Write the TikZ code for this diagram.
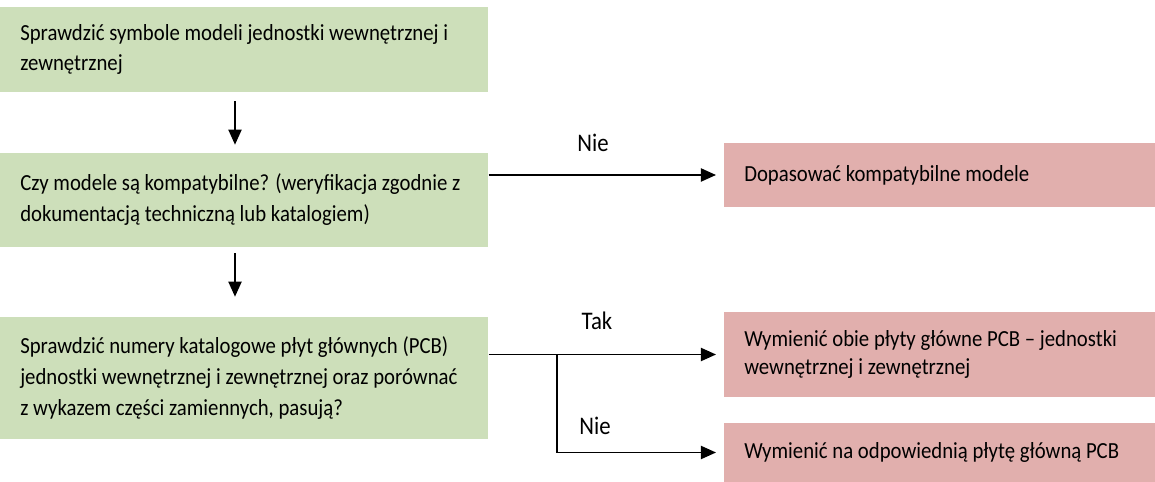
\documentclass[tikz,border=0pt]{standalone}
\usepackage{fontspec}
\setmainfont{Carlito}[FakeStretch=0.9]
\usetikzlibrary{calc,positioning,arrows.meta}
\definecolor{zielony}{RGB}{205,223,186}
\definecolor{rozowy}{RGB}{225,175,173}

\begin{document}
\begin{tikzpicture}[
		greenbox/.style={fill=zielony, anchor=west, text width=11.2cm, inner xsep=0.5cm, inner ysep=0pt, align=flush left, font=\fontsize{16.4}{22}\selectfont},
		redbox/.style={fill=rozowy, anchor=west, text width=9.8cm, inner xsep=0.5cm, inner ysep=0pt, align=flush left, font=\fontsize{16.4}{19.3}\selectfont},
		arr/.style={-{Triangle[length=0.38cm,width=0.33cm]}, line width=1.3pt},
		lbl/.style={font=\fontsize{18}{20}\selectfont}
	]
		\useasboundingbox (0,0) rectangle (28.875,-12.05);
	
		\node[greenbox, minimum height=2.125cm] at (0,-1.2375) (sym) {Sprawdzić symbole modeli jednostki wewnętrznej i\\ zewnętrznej};
		\node[greenbox, minimum height=2.35cm] at (0,-5) (komp) {Czy modele są kompatybilne? (weryfikacja zgodnie z\\ dokumentacją techniczną lub katalogiem)};
		\node[greenbox, minimum height=3.05cm] at (0,-9.45) (pcb) {Sprawdzić numery katalogowe płyt głównych (PCB)\\ jednostki wewnętrznej i zewnętrznej oraz porównać\\ z wykazem części zamiennych, pasują?};
	
		\node[redbox, minimum height=1.6cm] at (18.1,-4.375) (dop) {Dopasować kompatybilne modele};
		\node[redbox, minimum height=2.125cm] at (18.1,-8.8625) (obie) {Wymienić obie płyty główne PCB – jednostki\\ wewnętrznej i zewnętrznej};
		\node[redbox, minimum height=1.475cm] at (18.1,-11.3125) (odp) {Wymienić na odpowiednią płytę główną PCB};
	
		\coordinate (os) at (5.875,0);
		\coordinate (rozg) at (13.925,0);
	
		\draw[arr, shorten <=0.225cm, shorten >=0.2cm] (sym.south -| os) -- (komp.north -| os);
		\draw[arr, shorten <=0.15cm, shorten >=0.5cm] (komp.south -| os) -- (pcb.north -| os);
	
		\draw[arr, shorten >=0.2cm] (komp.east |- dop.west) -- (dop.west);
		\draw[arr, shorten >=0.2cm] (pcb.east |- obie.west) -- (obie.west);
		\draw[arr, shorten >=0.2cm] (rozg |- obie.west) |- (odp.west);
	
		\node[lbl] at (14.825,-3.575) (nie1) {Nie};
		\node[lbl] at (14.925,-8.025) (tak) {Tak};
		\node[lbl] at (14.875,-10.65) (nie2) {Nie};
	
	\end{tikzpicture}
\end{document}
